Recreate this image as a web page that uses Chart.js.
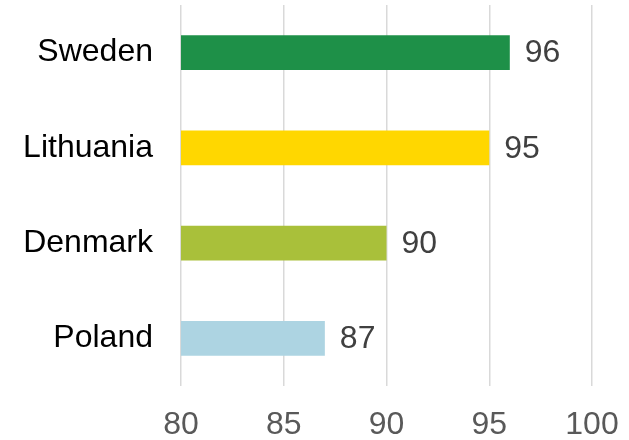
<!DOCTYPE html>
<html>
<head>
<meta charset="utf-8">
<script src="https://cdn.jsdelivr.net/npm/chart.js@4/dist/chart.umd.min.js"></script>
<style>
  html, body { margin: 0; padding: 0; background: #fff; }
  #wrap { width: 629px; height: 440px; }
</style>
</head>
<body>
<div id="wrap"><canvas id="myChart" width="629" height="440"></canvas></div>
<script>
const countries = ["Sweden", "Lithuania", "Denmark", "Poland"];
const scores = [96, 95, 90, 87];
const barColors = ["#1e9048", "#ffd700", "#a9c03a", "#add4e2"];
const xTicks = [80, 85, 90, 95, 100];

const fontFamily = "'Liberation Sans', Arial, sans-serif";

// writes the value just past the end of each bar
const valueLabels = {
  id: "valueLabels",
  afterDatasetsDraw(chart) {
    const ctx = chart.ctx;
    const meta = chart.getDatasetMeta(0);
    ctx.save();
    ctx.font = "32px " + fontFamily;
    ctx.fillStyle = "#404040";
    ctx.textAlign = "left";
    ctx.textBaseline = "middle";
    meta.data.forEach((bar, i) => {
      ctx.fillText(String(scores[i]), bar.x + 15, bar.y + 1);
    });
    ctx.restore();
  },
};

const ctx = document.getElementById("myChart").getContext("2d");
const myChart = new Chart(ctx, {
  type: "bar",
  data: {
    labels: countries,
    datasets: [
      {
        data: scores,
        backgroundColor: barColors,
        borderWidth: 0,
        barPercentage: 0.367,
        categoryPercentage: 1,
      },
    ],
  },
  options: {
    indexAxis: "y",
    responsive: false,
    animation: false,
    layout: { padding: { top: 5, right: 37, left: 0, bottom: 0 } },
    plugins: {
      legend: { display: false },
      tooltip: { enabled: false },
    },
    scales: {
      x: {
        min: 80,
        max: 100,
        afterBuildTicks: (axis) => {
          axis.ticks = xTicks.map((v) => ({ value: v }));
        },
        afterFit: (axis) => {
          axis.height = 54;
          axis.paddingLeft = 0;
          axis.paddingRight = 0;
        },
        grid: { color: "#d9d9d9", lineWidth: 1.5, drawTicks: false },
        border: { display: false },
        ticks: {
          padding: 20,
          color: "#595959",
          font: { family: fontFamily, size: 32 },
        },
      },
      y: {
        afterFit: (axis) => {
          axis.width = 181;
          axis.paddingTop = 0;
          axis.paddingBottom = 0;
        },
        grid: { display: false, drawTicks: false },
        border: { display: false },
        ticks: {
          padding: 28,
          color: "#000000",
          font: { family: fontFamily, size: 32 },
        },
      },
    },
  },
  plugins: [valueLabels],
});
</script>
</body>
</html>
